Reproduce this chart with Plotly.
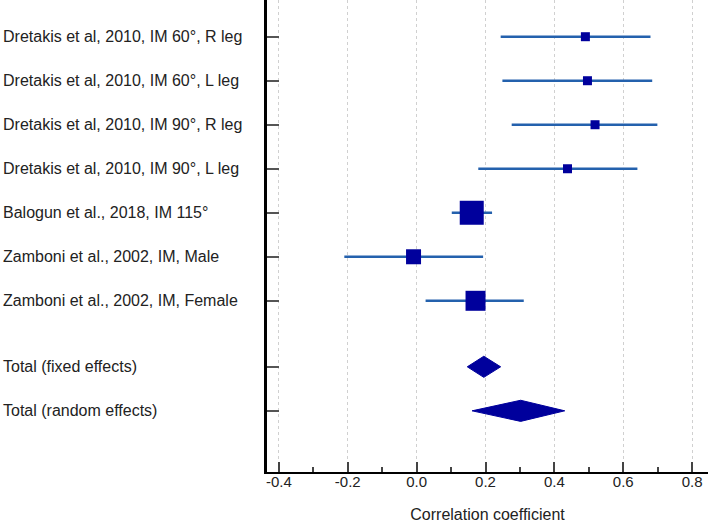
import plotly.graph_objects as go

studies = [
    "Dretakis et al, 2010, IM 60°, R leg",
    "Dretakis et al, 2010, IM 60°, L leg",
    "Dretakis et al, 2010, IM 90°, R leg",
    "Dretakis et al, 2010, IM 90°, L leg",
    "Balogun et al., 2018, IM 115°",
    "Zamboni et al., 2002, IM, Male",
    "Zamboni et al., 2002, IM, Female",
]
estimate = [0.490, 0.496, 0.518, 0.438, 0.160, -0.009, 0.171]
ci_low = [0.244, 0.249, 0.276, 0.179, 0.102, -0.210, 0.026]
ci_high = [0.679, 0.684, 0.699, 0.641, 0.219, 0.193, 0.311]
weight = [9, 9, 9, 9, 24, 15, 20]

totals = ["Total (fixed effects)", "Total (random effects)"]
total_est = [0.195, 0.302]
total_low = [0.147, 0.161]
total_high = [0.244, 0.430]

x_ticks = [-0.4, -0.2, 0.0, 0.2, 0.4, 0.6, 0.8]
x_ticktext = ["-0.4", "-0.2", "0.0", "0.2", "0.4", "0.6", "0.8"]

study_pos = list(range(1, len(studies) + 1))
total_pos = [len(studies) + 1.5, len(studies) + 2.5]

MARK = "#00009c"
LINE = "#2461ad"

fig = go.Figure()

for y, lo, hi in zip(study_pos, ci_low, ci_high):
    fig.add_trace(go.Scatter(x=[lo, hi], y=[y, y], mode="lines",
                             line=dict(color=LINE, width=2.5), hoverinfo="skip",
                             showlegend=False))

fig.add_trace(go.Scatter(x=estimate, y=study_pos, mode="markers",
                         marker=dict(symbol="square", size=weight, color=MARK,
                                     opacity=1, line=dict(width=0)),
                         showlegend=False))

h = 0.24
for y, lo, est, hi in zip(total_pos, total_low, total_est, total_high):
    fig.add_trace(go.Scatter(x=[lo, est, hi, est, lo], y=[y, y - h, y, y + h, y],
                             mode="lines", fill="toself", fillcolor=MARK,
                             line=dict(color=MARK, width=1), showlegend=False))

labels = studies + totals
label_pos = study_pos + total_pos
L = 267
plot_w = 708 - L
for lab, y in zip(labels, label_pos):
    fig.add_annotation(x=-(L - 0.5) / plot_w, xref="paper", y=y, yref="y", text=lab,
                       showarrow=False, xanchor="left", yanchor="middle",
                       font=dict(family="Liberation Sans, Arial", size=16, color="#222"))

fig.update_layout(
    width=708, height=523,
    margin=dict(l=L, r=0, t=0, b=51, autoexpand=False),
    paper_bgcolor="white", plot_bgcolor="white",
    font=dict(family="Liberation Sans, Arial", size=14, color="#222"),
    xaxis=dict(range=[-0.4345, 0.846], tickvals=x_ticks, ticktext=x_ticktext,
               showgrid=True, gridcolor="#d0d0d0", griddash="dot", gridwidth=1,
               zeroline=False, showline=True, linecolor="black", linewidth=2,
               ticks="inside", ticklen=10, tickcolor="#444", tickwidth=1.5,
               minor=dict(dtick=0.1, tick0=0, ticks="inside", ticklen=5,
                          tickcolor="#444", showgrid=False),
               title=dict(text="Correlation coefficient", standoff=21,
                          font=dict(size=16)),
               ticklabelstandoff=-5,
               tickfont=dict(size=15), automargin=False, fixedrange=True),
    yaxis=dict(range=[10.89, 0.166], tickvals=label_pos,
               ticktext=[""] * len(label_pos), showgrid=False, zeroline=False,
               showline=True, linecolor="black", linewidth=2.5,
               ticks="inside", ticklen=12, tickcolor="#555", tickwidth=1.5,
               automargin=False, fixedrange=True),
)

fig.write_html("out.html", config={"displayModeBar": False},
               post_script="document.body.style.margin='0px';")
